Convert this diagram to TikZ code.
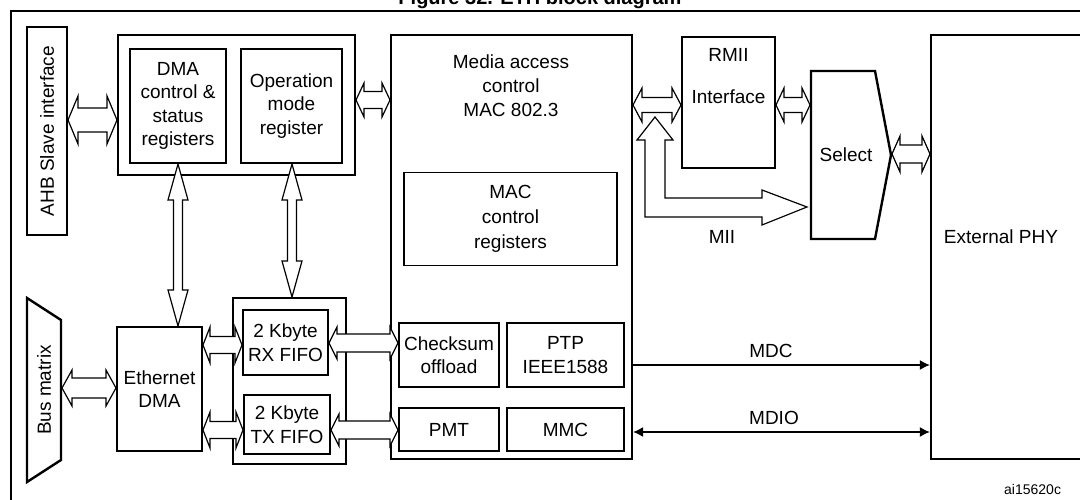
\documentclass[tikz,border=0pt]{standalone}
\usepackage{fontspec}
\setmainfont{Liberation Sans}
\usetikzlibrary{arrows.meta}
\begin{document}
\begin{tikzpicture}[x=1pt,y=-1pt,
  box/.style={draw,line width=2.4pt,inner sep=0pt,align=center,font=\fontsize{19}{23.5}\selectfont},
  tbox/.style={draw,line width=1.5pt,inner sep=0pt,align=center,font=\fontsize{19}{23.5}\selectfont},
  lbl/.style={inner sep=0pt,align=center,font=\fontsize{19}{24}\selectfont},
  arr/.style={draw,line width=1.2pt,fill=white,line join=miter},
  sig/.style={line width=1.2pt}]
\useasboundingbox (0,0) rectangle (1080,500);
\newcommand\hda[6]{\draw[arr] (#1,#3) -- ++(#6,-#5) -- ++(0,#5-#4) -- (#2-#6,#3-#4) -- ++(0,#4-#5) -- (#2,#3) -- ++(-#6,#5) -- ++(0,#4-#5) -- (#1+#6,#3+#4) -- ++(0,#5-#4) -- cycle;}
\newcommand\vda[6]{\draw[arr] (#1,#2) -- ++(-#5,#6) -- ++(#5-#4,0) -- (#1-#4,#3-#6) -- ++(#4-#5,0) -- (#1,#3) -- ++(#5,-#6) -- ++(#4-#5,0) -- (#1+#4,#2+#6) -- ++(#5-#4,0) -- cycle;}
% title and frame
\node[font=\bfseries\fontsize{20}{22}\selectfont,anchor=base] (title) at (540,5) {Figure 32. ETH block diagram};
\draw[line width=2.2pt] (11,510) -- (11,11) -- (1090,11);
% boxes
\node[box,minimum width=40,minimum height=208] (ahb) at (47,131) {};
\node[lbl,rotate=90] (ahbt) at (47,131) {AHB Slave interface};
\node[box,minimum width=237,minimum height=140] (regs) at (236.5,105) {};
\node[box,minimum width=96,minimum height=114] (dmar) at (178,106) {DMA\\control \&\\status\\registers};
\node[box,minimum width=101,minimum height=114] (opm) at (291.5,106) {Operation\\mode\\register};
\node[box,minimum width=241,minimum height=424] (mac) at (511.5,247) {};
\node[lbl] (mact) at (511,86) {Media access\\control\\MAC 802.3};
\node[tbox,minimum width=213,minimum height=93,font=\fontsize{19}{25}\selectfont] (macr) at (510.5,219) {MAC\\control\\registers};
\node[tbox,minimum width=100,minimum height=64] (cks) at (449,355) {Checksum\\offload};
\node[tbox,minimum width=117,minimum height=64] (ptp) at (565.5,355) {PTP\\IEEE1588};
\node[tbox,minimum width=100,minimum height=43] (pmt) at (449,429.5) {PMT};
\node[tbox,minimum width=117,minimum height=43] (mmc) at (565.5,429.5) {MMC};
\node[box,minimum width=93,minimum height=131] (rmii) at (728.5,102.5) {};
\node[lbl] (rmiit) at (728.5,55) {RMII};
\node[lbl] (rmiii) at (728.5,97) {Interface};
\draw[line width=2.4pt,line join=miter] (811,71) -- (875,71) -- (891,155) -- (875,239) -- (811,239) -- cycle;
\node[lbl] (sel) at (846,155) {Select};
\node[box,minimum width=159,minimum height=424] (phy) at (1010.5,247) {};
\node[lbl] (phyt) at (1001,237) {External PHY};
\draw[line width=2.4pt,line join=miter] (27,298) -- (61,320) -- (61,460) -- (27,482) -- cycle;
\node[lbl,rotate=90] (bus) at (44,390) {Bus matrix};
\node[box,minimum width=85,minimum height=124] (edma) at (159.5,389) {Ethernet\\DMA};
\node[box,minimum width=113,minimum height=166] (fifo) at (289.5,381) {};
\node[box,minimum width=85,minimum height=65] (rx) at (285.5,342.5) {2 Kbyte\\RX FIFO};
\node[box,minimum width=86,minimum height=59] (tx) at (287,424.5) {2 Kbyte\\TX FIFO};
% hollow arrows
\hda{68}{117}{120}{12}{24}{10}
\hda{356}{390}{100}{8.5}{17}{8}
\hda{633}{681}{105}{7.5}{17}{9}
\hda{776}{810}{105}{7.5}{17}{8}
\hda{892}{930}{154}{9}{18}{8}
\hda{62}{116}{388}{10}{18}{10}
\hda{203}{242}{345}{8.5}{18}{7}
\hda{203}{243}{430}{8.5}{18}{7}
\hda{329}{398}{343}{9}{16}{8}
\hda{331}{398}{430}{9}{16}{8}
\vda{178}{164}{326}{4.5}{10}{36}
\vda{292}{164}{297}{4.5}{10}{36}
% MII
\draw[arr] (655,117) -- (673,140) -- (665,140) -- (665,198) -- (762,198) -- (762,190) -- (807,207) -- (762,225) -- (762,217) -- (645,217) -- (645,140) -- (637,140) -- cycle;
\node[lbl] (mii) at (722,237) {MII};
% MDC / MDIO
\draw[sig,-{Latex[length=10pt,width=10pt]}] (mac.east |- 0,365) -- (phy.west |- 0,365);
\node[lbl] (mdc) at (771,351) {MDC};
\draw[sig,{Latex[length=10pt,width=10pt]}-{Latex[length=10pt,width=10pt]}] (mac.east |- 0,432) -- (phy.west |- 0,432);
\node[lbl] (mdio) at (774,418) {MDIO};
\node[inner sep=0pt,anchor=west,font=\fontsize{14}{15}\selectfont] (ref) at (1004,489) {ai15620c};
\end{tikzpicture}
\end{document}
